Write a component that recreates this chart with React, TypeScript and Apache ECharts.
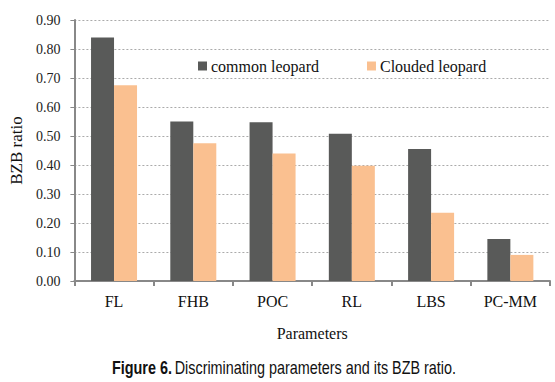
import React, { useEffect, useRef } from "react";
import * as echarts from "echarts";

const categories = ["FL", "FHB", "POC", "RL", "LBS", "PC-MM"];
const commonLeopard = [0.84, 0.55, 0.547, 0.508, 0.455, 0.145];
const cloudedLeopard = [0.675, 0.475, 0.44, 0.397, 0.235, 0.09];
const seriesNames = ["common leopard", "Clouded leopard"];
const captionBold = "Figure 6.";
const captionRest = "Discriminating parameters and its BZB ratio.";

export default function App() {
  const ref = useRef<HTMLDivElement>(null);
  useEffect(() => {
    const chart = echarts.init(ref.current!, null, { renderer: "svg" });
    const serif = "Liberation Serif";
    const sans = "Liberation Sans";
    chart.setOption({
      animation: false,
      backgroundColor: "#ffffff",
      grid: { left: 66, right: 5, top: 20, bottom: 101, containLabel: false },
      legend: {
        data: seriesNames,
        left: 193,
        top: 53,
        itemWidth: 9,
        itemHeight: 9,
        itemGap: 48,
        icon: "rect",
        textStyle: { fontFamily: serif, fontSize: 16, color: "#111", padding: [0, 0, 0, -1] },
      },
      graphic: [
        {
          type: "text",
          x: 112,
          y: 367,
          scaleX: 0.8,
          style: {
            text: "{b|" + captionBold + "} {n|" + captionRest + "}",
            verticalAlign: "middle",
            rich: {
              b: { fontFamily: sans, fontWeight: "bold", fontSize: 18, fill: "#111" },
              n: { fontFamily: sans, fontWeight: "normal", fontSize: 18, fill: "#111" },
            },
          },
        },
      ],
      xAxis: {
        type: "category",
        data: categories,
        name: "Parameters",
        nameLocation: "middle",
        nameGap: 44,
        nameTextStyle: { fontFamily: serif, fontSize: 16, color: "#111" },
        axisLine: { lineStyle: { color: "#888", width: 2 } },
        axisTick: { show: true, length: 5, lineStyle: { color: "#888", width: 2 } },
        axisLabel: { fontFamily: serif, fontSize: 16, color: "#111", margin: 12 },
      },
      yAxis: {
        type: "value",
        min: 0,
        max: 0.9,
        interval: 0.1,
        name: "BZB ratio",
        nameLocation: "middle",
        nameGap: 44,
        nameTextStyle: { fontFamily: serif, fontSize: 17, color: "#111" },
        axisLine: { show: true, lineStyle: { color: "#888", width: 2 } },
        axisTick: { show: true, length: 4, lineStyle: { color: "#888", width: 1 } },
        axisLabel: {
          fontFamily: serif,
          fontSize: 14,
          color: "#222",
          margin: 14,
          formatter: (v: number) => v.toFixed(2),
        },
        splitLine: { lineStyle: { color: "#aaa", type: [2, 2], width: 1 } },
      },
      series: [
        {
          name: seriesNames[0],
          type: "bar",
          data: commonLeopard,
          barWidth: 23,
          barGap: "0%",
          itemStyle: { color: "#595a59" },
        },
        {
          name: seriesNames[1],
          type: "bar",
          data: cloudedLeopard,
          barWidth: 23,
          itemStyle: { color: "#fac090" },
        },
      ],
    });
    return () => chart.dispose();
  }, []);
  return <div ref={ref} style={{ width: 555, height: 382, position: "absolute", left: 0, top: 0 }} />;
}
